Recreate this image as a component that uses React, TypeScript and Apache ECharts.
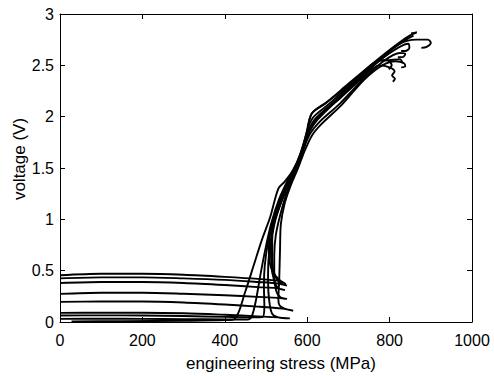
import React, { useEffect, useRef } from "react";
import * as echarts from "echarts";

const xTicks = [0, 200, 400, 600, 800, 1000];
const yTicks = [0, 0.5, 1, 1.5, 2, 2.5, 3];

const curve1: number[][] = [[0,0.455],[100,0.47],[200,0.47],[300,0.46],[400,0.44],[480,0.42],[530,0.40],[548,0.37],[530,0.42],[515,0.5],[507,0.65],[508,0.8],[515,0.95],[530,1.12],[548,1.3],[568,1.47],[585,1.62],[598,1.8],[611,2.03],[650,2.15],[700,2.32],[760,2.52],[810,2.68],[845,2.78],[866,2.82],[852,2.81]];
const curve2: number[][] = [[0,0.425],[100,0.435],[200,0.435],[300,0.425],[400,0.41],[480,0.39],[530,0.375],[551,0.355],[535,0.38],[522,0.45],[515,0.6],[515,0.8],[522,0.98],[538,1.18],[556,1.35],[575,1.52],[590,1.68],[605,1.85],[625,1.97],[665,2.13],[715,2.32],[770,2.53],[820,2.7],[865,2.75],[893,2.75],[900,2.72],[890,2.68],[877,2.67]];
const curve3: number[][] = [[0,0.38],[100,0.39],[200,0.39],[300,0.38],[400,0.36],[480,0.34],[525,0.33],[546,0.31],[530,0.33],[520,0.4],[513,0.55],[512,0.75],[518,0.95],[533,1.15],[552,1.35],[572,1.52],[588,1.68],[603,1.86],[620,1.98],[670,2.16],[725,2.37],[780,2.56],[820,2.67],[845,2.71],[848,2.67],[838,2.64],[828,2.64]];
const curve4: number[][] = [[0,0.274],[100,0.285],[200,0.285],[300,0.275],[400,0.26],[480,0.245],[530,0.235],[551,0.225],[535,0.24],[525,0.3],[520,0.45],[520,0.65],[524,0.85],[535,1.05],[552,1.28],[572,1.48],[590,1.68],[608,1.84],[630,1.95],[680,2.13],[735,2.36],[785,2.54],[825,2.62],[838,2.61],[832,2.58],[820,2.58]];
const curve5: number[][] = [[0,0.196],[100,0.2],[200,0.2],[300,0.19],[400,0.17],[480,0.15],[540,0.13],[566,0.11],[545,0.13],[533,0.16],[530,0.22],[532,0.4],[534,0.7],[536,0.95],[545,1.15],[560,1.33],[578,1.5],[593,1.66],[612,1.82],[635,1.93],[685,2.12],[738,2.36],[782,2.5],[815,2.54],[835,2.52],[838,2.49],[828,2.48]];
const curve6: number[][] = [[0,0.089],[100,0.09],[200,0.09],[300,0.085],[400,0.07],[480,0.055],[530,0.045],[558,0.035],[530,0.045],[515,0.08],[508,0.2],[505,0.4],[506,0.6],[512,0.8],[522,1.0],[540,1.2],[562,1.4],[582,1.58],[596,1.75],[612,1.93],[635,2.03],[680,2.18],[735,2.38],[775,2.5],[800,2.48],[812,2.44],[806,2.4],[813,2.37],[808,2.34]];
const curve7: number[][] = [[0,0.063],[100,0.065],[200,0.063],[300,0.058],[400,0.05],[470,0.045],[492,0.05],[496,0.15],[495,0.35],[497,0.55],[505,0.78],[516,0.98],[535,1.2],[557,1.38],[578,1.56],[592,1.72],[607,1.89],[625,1.99],[665,2.14],[718,2.36],[770,2.54],[800,2.55],[825,2.56],[832,2.52]];
const curve8: number[][] = [[0,0.03],[100,0.032],[200,0.03],[300,0.028],[400,0.025],[455,0.025],[465,0.05],[475,0.2],[486,0.45],[498,0.7],[512,0.95],[532,1.2],[555,1.4],[576,1.56],[590,1.72],[603,1.9],[616,2.0],[655,2.13],[708,2.33],[762,2.52],[800,2.64],[840,2.75],[858,2.79]];
const curve9: number[][] = [[28,0.005],[150,0.008],[300,0.012],[400,0.018],[424,0.03],[450,0.3],[470,0.55],[490,0.8],[510,1.02],[530,1.3],[546,1.37],[566,1.48],[584,1.64],[597,1.82],[611,2.03],[645,2.13],[698,2.3],[748,2.47],[775,2.55],[795,2.55],[805,2.5],[798,2.46]];

const curves = [curve1, curve2, curve3, curve4, curve5, curve6, curve7, curve8, curve9];

export default function App() {
  const ref = useRef<HTMLDivElement>(null);
  useEffect(() => {
    if (!ref.current) return;
    const chart = echarts.init(ref.current, null, { renderer: "svg" });
    const font = "Liberation Sans, Arial, sans-serif";
    const baseX = {
      type: "value" as const,
      min: xTicks[0],
      max: xTicks[xTicks.length - 1],
      interval: 200,
      splitLine: { show: false },
      axisLine: { show: true, onZero: false, lineStyle: { color: "#000", width: 1 } },
      axisTick: { show: true, inside: true, length: 5, lineStyle: { color: "#000" } },
    };
    const baseY = {
      type: "value" as const,
      min: yTicks[0],
      max: yTicks[yTicks.length - 1],
      interval: 0.5,
      splitLine: { show: false },
      axisLine: { show: true, onZero: false, lineStyle: { color: "#000", width: 1 } },
      axisTick: { show: true, inside: true, length: 5, lineStyle: { color: "#000" } },
    };
    chart.setOption({
      animation: false,
      backgroundColor: "#fff",
      grid: { left: 60, right: 22, top: 14, bottom: 54 },
      xAxis: [
        { ...baseX, position: "bottom", axisLabel: { color: "#000", fontSize: 16, fontFamily: font, margin: 10, formatter: (v: number) => String(v) } },
        { ...baseX, position: "top", axisLabel: { show: false } },
      ],
      yAxis: [
        { ...baseY, position: "left", axisLabel: { color: "#000", fontSize: 16, fontFamily: font, margin: 6, formatter: (v: number) => String(v) } },
        { ...baseY, position: "right", axisLabel: { show: false } },
      ],
      graphic: [
        { type: "text", x: 281, y: 363, style: { text: "engineering stress (MPa)", fill: "#000", font: `17px ${font}`, textAlign: "center", textVerticalAlign: "middle" } },
        { type: "text", x: 19, y: 159, rotation: Math.PI / 2, style: { text: "voltage (V)", fill: "#000", font: `17px ${font}`, textAlign: "center", textVerticalAlign: "middle" } },
      ],
      series: curves.map((c) => ({
        type: "line",
        data: c,
        xAxisIndex: 0,
        yAxisIndex: 0,
        showSymbol: false,
        smooth: 0.3,
        lineStyle: { color: "#000", width: 1.9 },
        silent: true,
      })),
    });
    return () => chart.dispose();
  }, []);
  return <div ref={ref} style={{ width: 494, height: 376, position: "absolute", left: 0, top: 0 }} />;
}
